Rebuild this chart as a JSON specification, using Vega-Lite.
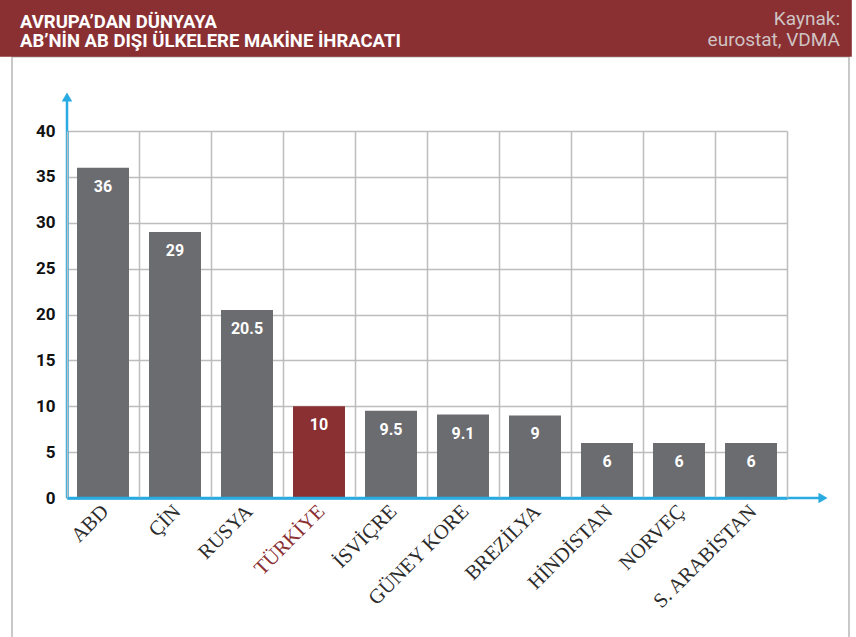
{
  "$schema": "https://vega.github.io/schema/vega-lite/v6.json",
  "width": 720,
  "height": 367,
  "autosize": "none",
  "padding": {"left": 67, "top": 131, "right": 69, "bottom": 139},
  "background": "white",
  "config": {"view": {"stroke": null}},
  "data": {
    "values": [
      {"country": "ABD", "value": 36, "label": "36"},
      {"country": "ÇİN", "value": 29, "label": "29"},
      {"country": "RUSYA", "value": 20.5, "label": "20.5"},
      {"country": "TÜRKİYE", "value": 10, "label": "10"},
      {"country": "İSVİÇRE", "value": 9.5, "label": "9.5"},
      {"country": "GÜNEY KORE", "value": 9.1, "label": "9.1"},
      {"country": "BREZİLYA", "value": 9, "label": "9"},
      {"country": "HİNDİSTAN", "value": 6, "label": "6"},
      {"country": "NORVEÇ", "value": 6, "label": "6"},
      {"country": "S. ARABİSTAN", "value": 6, "label": "6"}
    ]
  },
  "layer": [
    {
      "data": {"values": [{}]},
      "mark": {"type": "rect", "fillOpacity": 0, "stroke": "#b8b8b8", "strokeWidth": 1.5, "clip": false},
      "encoding": {
        "x": {"datum": "ABD", "type": "nominal", "bandPosition": -0.764, "scale": {"domain": ["ABD", "ÇİN", "RUSYA", "TÜRKİYE", "İSVİÇRE", "GÜNEY KORE", "BREZİLYA", "HİNDİSTAN", "NORVEÇ", "S. ARABİSTAN"], "paddingInner": 0, "paddingOuter": 0}},
        "x2": {"datum": "S. ARABİSTAN", "bandPosition": 1.861},
        "y": {"datum": 48.1, "type": "quantitative", "scale": {"domain": [0, 40], "nice": false}},
        "y2": {"datum": -16}
      }
    },
    {
      "data": {"values": [{}]},
      "mark": {"type": "rect", "fill": "#8a3033", "clip": false},
      "encoding": {
        "x": {"datum": "ABD", "type": "nominal", "bandPosition": -1},
        "x2": {"datum": "S. ARABİSTAN", "bandPosition": 1.9},
        "y": {"datum": 55, "type": "quantitative", "scale": {"domain": [0, 40], "nice": false}},
        "y2": {"datum": 48.1}
      }
    },
    {
      "data": {"values": [{}]},
      "mark": {"type": "text", "align": "left", "baseline": "alphabetic", "font": "Roboto", "fontWeight": "bold", "fontSize": 18.5, "color": "white", "lineBreak": "\n", "lineHeight": 19.5},
      "encoding": {
        "x": {"datum": "ABD", "type": "nominal", "bandPosition": -0.653},
        "y": {"datum": 51.28, "type": "quantitative", "scale": {"domain": [0, 40], "nice": false}},
        "text": {"value": "AVRUPA’DAN DÜNYAYA\nAB’NİN AB DIŞI ÜLKELERE MAKİNE İHRACATI"}
      }
    },
    {
      "data": {"values": [{}]},
      "mark": {"type": "text", "align": "right", "baseline": "alphabetic", "font": "Roboto", "fontSize": 19, "color": "#cfc3c3", "lineBreak": "\n", "lineHeight": 21},
      "encoding": {
        "x": {"datum": "S. ARABİSTAN", "type": "nominal", "bandPosition": 1.736},
        "y": {"datum": 51.55, "type": "quantitative", "scale": {"domain": [0, 40], "nice": false}},
        "text": {"value": "Kaynak:\neurostat, VDMA"}
      }
    },
    {
      "mark": {"type": "bar", "width": {"band": 0.722}},
      "encoding": {
        "x": {
          "field": "country", "type": "nominal", "sort": null,
          "axis": {
            "title": null, "grid": true, "tickBand": "extent", "gridColor": "#bdbdbd", "gridWidth": 1.5,
            "ticks": false, "domainColor": "#29abe2", "domainWidth": 2.5,
            "labelAngle": -45, "labelFont": "Liberation Serif", "labelFontSize": 20.5, "labelPadding": 10, "labelOffset": 2,
            "labelColor": {"condition": {"test": "datum.value === 'TÜRKİYE'", "value": "#8a3033"}, "value": "#2b2b2b"}
          }
        },
        "y": {
          "field": "value", "type": "quantitative",
          "scale": {"domain": [0, 40], "nice": false},
          "axis": {
            "title": null, "values": [0, 5, 10, 15, 20, 25, 30, 35, 40], "grid": true, "gridColor": "#bdbdbd", "gridWidth": 1.5,
            "ticks": false, "domainColor": "#29abe2", "domainWidth": 2.5,
            "labelFont": "Roboto", "labelFontWeight": "bold", "labelFontSize": 17, "labelColor": "#111", "labelPadding": 12
          }
        },
        "color": {"condition": {"test": "datum.country === 'TÜRKİYE'", "value": "#8a3033"}, "value": "#6b6c70"}
      }
    },
    {
      "mark": {"type": "text", "baseline": "top", "dy": 11, "font": "Roboto", "fontWeight": "bold", "fontSize": 16, "color": "white"},
      "encoding": {
        "x": {"field": "country", "type": "nominal", "sort": null},
        "y": {"field": "value", "type": "quantitative", "scale": {"domain": [0, 40], "nice": false}},
        "text": {"field": "label"}
      }
    },
    {
      "data": {"values": [{}]},
      "mark": {"type": "rule", "color": "#29abe2", "strokeWidth": 2.5, "clip": false},
      "encoding": {
        "x": {"datum": "ABD", "type": "nominal", "bandPosition": 0},
        "y": {"datum": 0, "type": "quantitative", "scale": {"domain": [0, 40], "nice": false}},
        "y2": {"datum": 43.5}
      }
    },
    {
      "data": {"values": [{}]},
      "mark": {"type": "point", "shape": "triangle-up", "filled": true, "color": "#29abe2", "size": 110, "opacity": 1, "clip": false},
      "encoding": {
        "x": {"datum": "ABD", "type": "nominal", "bandPosition": 0},
        "y": {"datum": 43.7, "type": "quantitative", "scale": {"domain": [0, 40], "nice": false}}
      }
    },
    {
      "data": {"values": [{}]},
      "mark": {"type": "rule", "color": "#29abe2", "strokeWidth": 2.5, "clip": false},
      "encoding": {
        "x": {"datum": "ABD", "type": "nominal", "bandPosition": 0},
        "x2": {"datum": "S. ARABİSTAN", "bandPosition": 1.5},
        "y": {"datum": 0, "type": "quantitative", "scale": {"domain": [0, 40], "nice": false}}
      }
    },
    {
      "data": {"values": [{}]},
      "mark": {"type": "point", "shape": "triangle-right", "filled": true, "color": "#29abe2", "size": 110, "opacity": 1, "clip": false},
      "encoding": {
        "x": {"datum": "S. ARABİSTAN", "type": "nominal", "bandPosition": 1.5},
        "y": {"datum": 0, "type": "quantitative", "scale": {"domain": [0, 40], "nice": false}}
      }
    }
  ]
}
